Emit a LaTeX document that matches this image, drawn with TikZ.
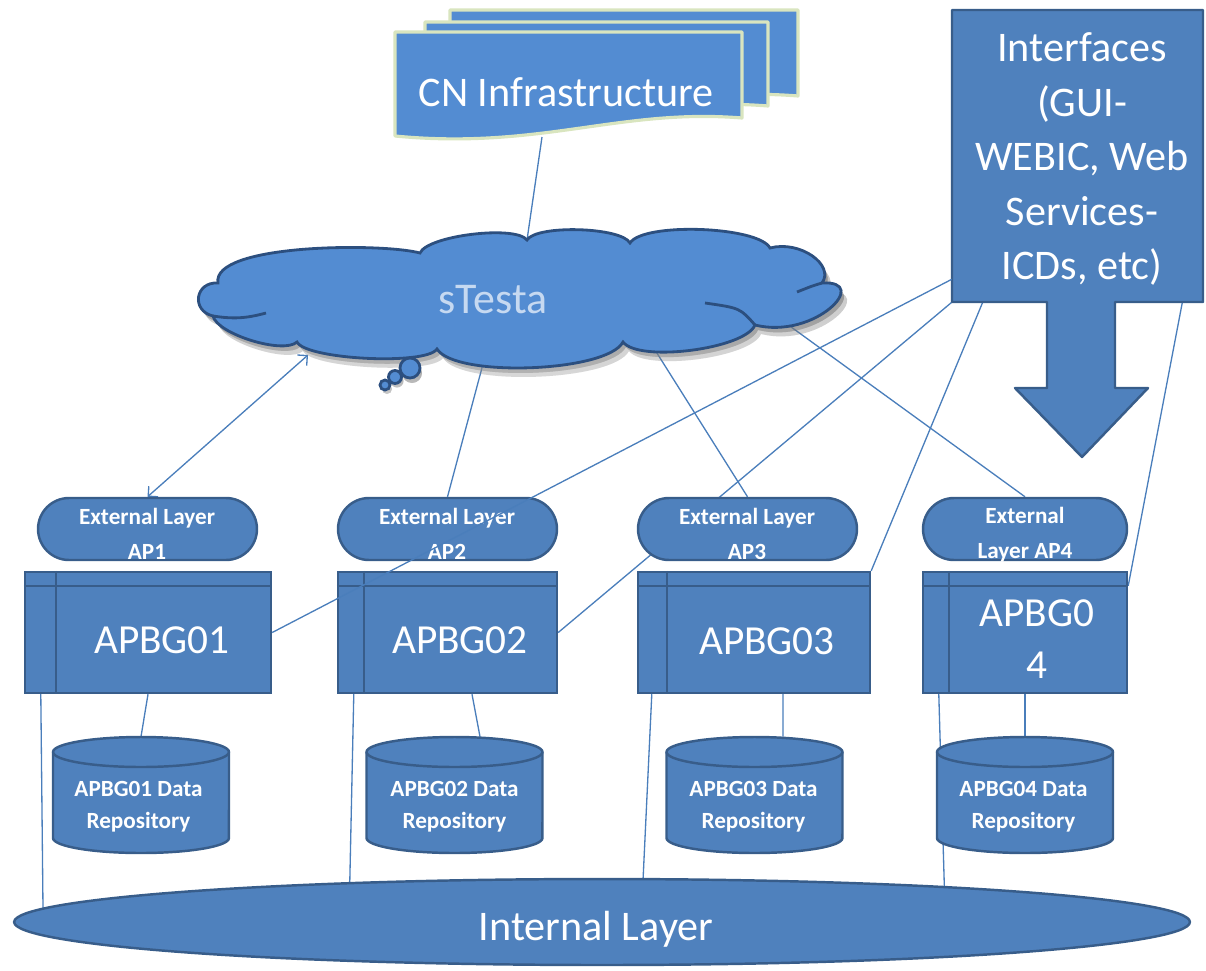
\documentclass[tikz,border=0pt]{standalone}
\usepackage{fontspec}
\setmainfont{Carlito}
\usetikzlibrary{shapes.geometric,shapes.misc,arrows.meta,calc}

\definecolor{boxfill}{HTML}{4F81BD}
\definecolor{boxline}{HTML}{385D8A}
\definecolor{cloudfill}{HTML}{538CD2}
\definecolor{cloudline}{HTML}{2C4F7F}
\definecolor{linkc}{HTML}{4A7EBB}
\definecolor{docline}{HTML}{D9E5BF}
\definecolor{skytext}{HTML}{C6D9F1}
\definecolor{shade}{HTML}{BFA552}

\pgfdeclarelayer{wires}
\pgfsetlayers{wires,main}

% outline of the sTesta cloud, lobe by lobe, clockwise from the left notch
\newcommand{\cloudoutline}{(213,316)
  to[bend left=85,looseness=1.76] (218,283)
  to[out=100,in=165,looseness=0.5] (420,253)
  to[bend left=60,looseness=0.45] (527,240)
  to[bend left=60,looseness=0.45] (630,243)
  to[bend left=60,looseness=0.45] (770,248)
  .. controls (800,240) and (835,265) .. (822,283)
  .. controls (872,280) and (815,340) .. (755,325)
  to[bend left=60,looseness=0.5] (623,342)
  to[bend left=60,looseness=0.47] (437,349)
  to[bend left=60,looseness=0.36] (297,342)
  to[bend left=60,looseness=0.54] (213,316) -- cycle}

\begin{document}
\begin{tikzpicture}[x=0.02cm,y=-0.02cm,
  blockfill/.style={fill=boxfill, draw=boxline, line width=1.4pt},
  extbox/.style={blockfill, rounded rectangle, minimum height=1.24cm, inner sep=0pt},
  storebox/.style={blockfill, rectangle, minimum height=2.42cm, inner sep=0pt},
  doc/.style={fill=cloudfill, draw=docline, line width=1.8pt, line join=round},
  cloudstyle/.style={fill=cloudfill, draw=cloudline, line width=1.6pt},
  link/.style={draw=linkc, line width=0.75pt},
  bigtext/.style={text=white, font=\fontsize{23.5}{28}\selectfont, inner sep=0pt},
  exttext/.style={text=white, align=center, inner sep=0pt,
    font=\bfseries\fontsize{13.2}{20}\selectfont},
  repotext/.style={text=white, align=center, inner sep=0pt,
    font=\bfseries\fontsize{13.2}{18}\selectfont},
  ]
\useasboundingbox (0,0) rectangle (1206,970);

% ---- CN Infrastructure: three stacked documents ----
\path[doc] (450,10) -- (798,10) -- (798,96)
  .. controls (676,86) and (596,126) .. (450,114) -- cycle;
\path[doc] (425,22) -- (768,22) -- (768,106)
  .. controls (646,96) and (566,136) .. (425,124) -- cycle;
\path[doc] (395,32) -- (742,32) -- (742,118)
  .. controls (620,108) and (540,150) .. (395,136) -- cycle;
\node[bigtext, font=\fontsize{24}{28}\selectfont] (cn) at (566,92) {CN Infrastructure};
\coordinate (cn-foot) at (542,137);

% ---- sTesta cloud ----
\fill[shade, opacity=.18, shift={(6,9)}] \cloudoutline;
\fill[shade, opacity=.3, shift={(3,5)}] \cloudoutline;
\fill[shade, opacity=.3] (412,373) circle[radius=0.2cm] (397,381) circle[radius=0.13cm] (387,389) circle[radius=0.1cm];
\path[cloudstyle] \cloudoutline;
\draw[cloudline, line width=1.6pt] (213,316) to[bend right=12] (266,313);
\draw[cloudline, line width=1.6pt] (755,325) .. controls (740,308) .. (705,303);
\draw[cloudline, line width=1.6pt] (822,283) .. controls (812,286) .. (797,292);
\path[cloudstyle] (410,368) circle[radius=0.2cm];
\path[cloudstyle] (395,377) circle[radius=0.13cm];
\path[cloudstyle] (385,385) circle[radius=0.1cm];
\node[text=skytext, font=\fontsize{25}{28}\selectfont, inner sep=0pt] (stesta) at (493,300) {sTesta};
\coordinate (cl-top) at (527,240);
\coordinate (cl-a) at (308,355);
\coordinate (cl-b) at (483,364);
\coordinate (cl-c) at (655,350);
\coordinate (cl-d) at (787,324);

% ---- Interfaces block arrow ----
\path[blockfill, line join=round] (952,10) -- (1203,10) -- (1203,302) -- (1115,302)
  -- (1115,388) -- (1148,388) -- (1082,457) -- (1015,388) -- (1047,388)
  -- (1047,302) -- (952,302) -- cycle;
\node[minimum width=5.02cm, minimum height=5.84cm, inner sep=0pt] (intf) at (1077.5,156) {};
\node[text=white, align=center, inner sep=0pt, font=\fontsize{24}{31}\selectfont]
  (intft) at (1082,159) {Interfaces\\(GUI-\\WEBIC, Web\\Services-\\ICDs, etc)};

% ---- external layers ----
\node[extbox, minimum width=4.38cm] (ext1) at (147.5,529) {};
\node[extbox, minimum width=4.38cm] (ext2) at (447.5,529) {};
\node[extbox, minimum width=4.38cm] (ext3) at (747.5,529) {};
\node[extbox, minimum width=4.08cm] (ext4) at (1025,529) {};
\node[exttext] (ext1t) at (147,534) {External Layer\\AP1};
\node[exttext] (ext2t) at (447,534) {External Layer\\AP2};
\node[exttext] (ext3t) at (747,534) {External Layer\\AP3};
\node[exttext] (ext4t) at (1025,535) {External\\Layer AP4};

% ---- APBG stores ----
\node[storebox, minimum width=4.92cm] (apbg1) at (148,632.5) {};
\node[storebox, minimum width=4.38cm] (apbg2) at (447.5,632.5) {};
\node[storebox, minimum width=4.64cm] (apbg3) at (754,632.5) {};
\node[storebox, minimum width=4.08cm] (apbg4) at (1025,632.5) {};
\foreach \n/\w in {apbg1/0.64cm, apbg2/0.54cm, apbg3/0.6cm, apbg4/0.54cm}{
  \draw[boxline, line width=1.4pt] ([xshift=\w]\n.north west) -- ([xshift=\w]\n.south west);
  \draw[boxline, line width=1.4pt] ([yshift=-0.3cm]\n.north west) -- ([yshift=-0.3cm]\n.north east);
}
\node[bigtext] (apbg1t) at (162,640) {APBG01};
\node[bigtext] (apbg2t) at (460,640) {APBG02};
\node[bigtext] (apbg3t) at (767,641) {APBG03};
\node[bigtext, align=center, font=\fontsize{23.5}{30}\selectfont] (apbg4t) at (1037,639) {APBG0\\4};

% ---- data repositories (cylinders) ----
\foreach \n/\cx in {db1/141, db2/454.5, db3/754.5, db4/1025}{
  \node[minimum width=3.52cm, minimum height=2.32cm, inner sep=0pt] (\n) at (\cx,795) {};
  \path[blockfill] ({\cx-88},752) -- ({\cx-88},838)
    arc[start angle=180, end angle=360, x radius=1.76cm, y radius=0.3cm]
    -- ({\cx+88},752)
    arc[start angle=0, end angle=180, x radius=1.76cm, y radius=0.3cm] -- cycle;
  \draw[boxline, line width=1.4pt] ({\cx-88},752)
    arc[start angle=180, end angle=360, x radius=1.76cm, y radius=0.3cm];
}
\node[repotext] (db1t) at (138.5,807) {APBG01 Data\\Repository};
\node[repotext] (db2t) at (454.5,807) {APBG02 Data\\Repository};
\node[repotext] (db3t) at (753.5,807) {APBG03 Data\\Repository};
\node[repotext] (db4t) at (1023.5,807) {APBG04 Data\\Repository};

% ---- internal layer ----
\node[blockfill, ellipse, minimum width=23.52cm, minimum height=1.72cm, inner sep=0pt] (intl) at (602,922) {};
\node[bigtext, font=\fontsize{24}{28}\selectfont] (intlt) at (596,929) {Internal Layer};
\coordinate (intl-w) at (43,908);

% ---- connectors (behind the shapes) ----
\begin{pgfonlayer}{wires}
  \draw[link] (cn-foot) -- (cl-top);
  \draw[link, {Straight Barb[length=4pt,width=8pt]}-{Straight Barb[length=4pt,width=8pt]}] (cl-a) -- (ext1.north);
  \draw[link] (cl-b) -- (ext2.north);
  \draw[link] (cl-c) -- (ext3.north);
  \draw[link] (cl-d) -- (ext4.north);
  \draw[link] (apbg2.east) -- (intf.south west);
  \draw[link] (apbg3.north east) -- ([xshift=0.62cm]intf.south west);
  \draw[link] ([yshift=-0.3cm]apbg4.north east) -- ([xshift=-0.42cm]intf.south east);
  \draw[link] (apbg1.south) -- (db1.north);
  \draw[link] ([xshift=0.49cm]apbg2.south) -- ([xshift=0.51cm]db2.north);
  \draw[link] ([xshift=0.58cm]apbg3.south) -- ([xshift=0.57cm]db3.north);
  \draw[link] (apbg4.south) -- (db4.north);
  \draw[link] ([xshift=0.34cm]apbg1.south west) -- (intl-w);
  \draw[link] ([xshift=0.34cm]apbg2.south west) -- (intl.171.7);
  \draw[link] ([xshift=0.3cm]apbg3.south west) -- (intl.47.9);
  \draw[link] ([xshift=0.34cm]apbg4.south west) -- (intl.6.4);
\end{pgfonlayer}
% this one runs over the APBG02 shapes
\draw[link] (apbg1.east) -- ([yshift=0.46cm]intf.south west);
\end{tikzpicture}
\end{document}
